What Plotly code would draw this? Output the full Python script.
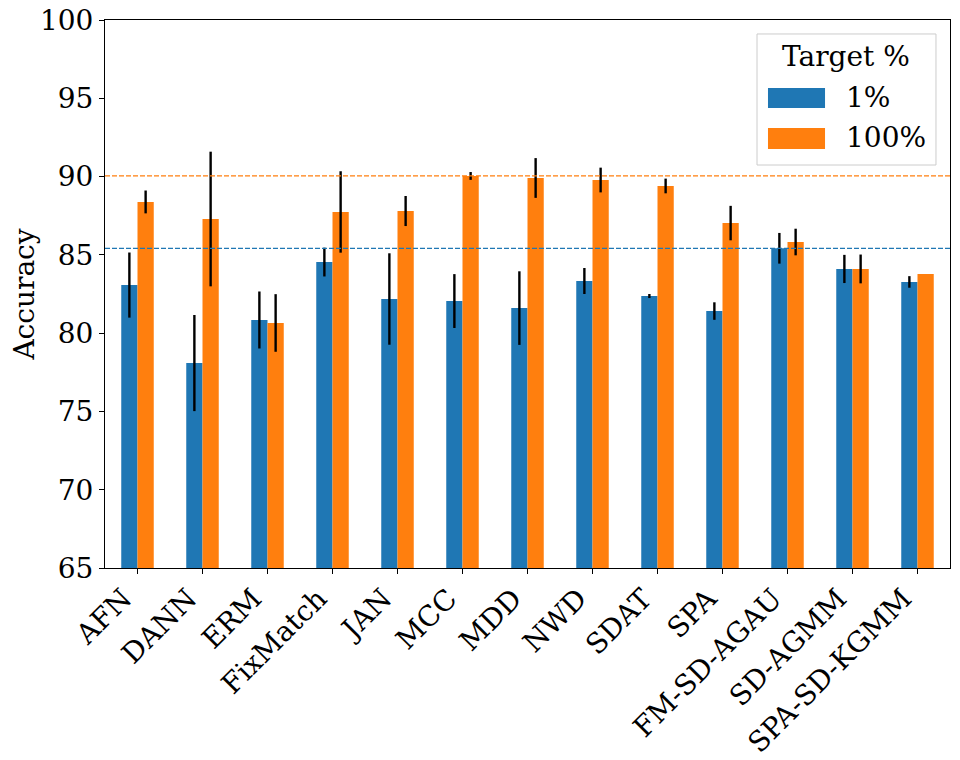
import plotly.graph_objects as go

categories = ["AFN", "DANN", "ERM", "FixMatch", "JAN", "MCC", "MDD", "NWD",
              "SDAT", "SPA", "FM-SD-AGAU", "SD-AGMM", "SPA-SD-KGMM"]
series_names = ["1%", "100%"]
acc_1 = [83.07, 78.09, 80.84, 84.54, 82.18, 82.05, 81.60, 83.33, 82.37, 81.41, 85.42, 84.10, 83.27]
std_1 = [2.08, 3.07, 1.82, 0.92, 2.92, 1.72, 2.35, 0.83, 0.13, 0.56, 0.98, 0.90, 0.37]
acc_100 = [88.38, 87.29, 80.65, 87.74, 87.80, 90.04, 89.91, 89.78, 89.40, 87.03, 85.82, 84.10, 83.78]
std_100 = [0.73, 4.30, 1.84, 2.60, 0.96, 0.25, 1.27, 0.79, 0.47, 1.10, 0.85, 0.92, 0.0]
y_ticks = [65, 70, 75, 80, 85, 90, 95, 100]

colors = ["#1f77b4", "#ff7f0e"]
FONT = "DejaVu Serif"
FS = 28

fig = go.Figure()
for name, vals, errs, col in [(series_names[0], acc_1, std_1, colors[0]),
                               (series_names[1], acc_100, std_100, colors[1])]:
    fig.add_trace(go.Bar(
        x=categories, y=vals, name=name, marker=dict(color=col, line=dict(width=0)),
        error_y=dict(type="data", array=errs, visible=True, color="black",
                     thickness=2.4, width=0),
        showlegend=False,
    ))

# reference lines at best value of each series
for vals, col in [(acc_1, colors[0]), (acc_100, colors[1])]:
    fig.add_shape(type="line", xref="paper", x0=0, x1=1, yref="y",
                  y0=max(vals), y1=max(vals),
                  line=dict(color=col, width=1.3, dash="5px,2px"), layer="above")

# legend box (drawn manually to match wide patches)
fig.add_shape(type="rect", xref="paper", yref="paper", x0=0.7716, x1=0.9834,
              y0=0.7354, y1=0.9745, line=dict(color="#cccccc", width=1),
              fillcolor="rgba(255,255,255,0.8)", layer="above")
fig.add_shape(type="rect", xref="paper", yref="paper", x0=0.7846, x1=0.8521,
              y0=0.8394, y1=0.8759, line=dict(width=0), fillcolor=colors[0], layer="above")
fig.add_shape(type="rect", xref="paper", yref="paper", x0=0.7846, x1=0.8521,
              y0=0.7646, y1=0.8029, line=dict(width=0), fillcolor=colors[1], layer="above")
fig.add_annotation(text="Target %", xref="paper", yref="paper", x=0.8775, y=0.9325,
                   showarrow=False, xanchor="center", yanchor="middle",
                   font=dict(family=FONT, size=FS, color="black"))
fig.add_annotation(text=series_names[0], xref="paper", yref="paper", x=0.874, y=0.8577,
                   showarrow=False, xanchor="left", yanchor="middle",
                   font=dict(family=FONT, size=FS, color="black"))
fig.add_annotation(text=series_names[1], xref="paper", yref="paper", x=0.874, y=0.7847,
                   showarrow=False, xanchor="left", yanchor="middle",
                   font=dict(family=FONT, size=FS, color="black"))

fig.update_layout(
    width=960, height=760,
    margin=dict(l=97, r=18, t=12, b=200),
    paper_bgcolor="white", plot_bgcolor="white",
    barmode="group", bargap=0.5, bargroupgap=0,
    font=dict(family=FONT, size=FS, color="black"),
    showlegend=False,
)
fig.update_xaxes(
    range=[-0.5, len(categories) - 0.5], tickangle=-45, automargin=False,
    ticklabelshift=-14, ticklabelstandoff=-3, ticklabeloverflow="allow",
    showline=True, linecolor="black", linewidth=1, mirror=True,
    ticks="outside", ticklen=5, tickcolor="black", showgrid=False,
    tickfont=dict(family=FONT, size=FS),
)
fig.update_yaxes(
    range=[65, 100], tickvals=y_ticks, automargin=False, ticklabeloverflow="allow",
    showline=True, linecolor="black", linewidth=1, mirror=True,
    ticks="outside", ticklen=5, tickcolor="black", showgrid=False, zeroline=False,
    tickfont=dict(family=FONT, size=FS),
    title=dict(text="Accuracy", font=dict(family=FONT, size=FS), standoff=10),
)

fig.write_html("out.html")
